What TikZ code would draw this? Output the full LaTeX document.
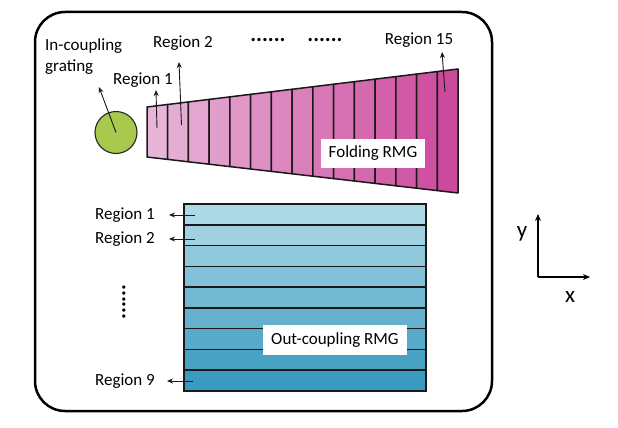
\documentclass[tikz,border=0pt]{standalone}
\usepackage{fontspec}
\setmainfont{Carlito}
\usetikzlibrary{arrows.meta,positioning,calc}

\definecolor{foldlight}{HTML}{E8B4D8}
\definecolor{folddark}{HTML}{CC4A9C}
\definecolor{outlight}{HTML}{ADD8E6}
\definecolor{outdark}{HTML}{3A9ABF}
\definecolor{gratinggreen}{HTML}{A8C94E}

\begin{document}
\begin{tikzpicture}[x=1pt, y=-1pt, >={Stealth[length=6pt,width=5pt]},
  lbl/.style={font=\fontsize{17}{21}\selectfont, inner sep=1pt},
  namebox/.style={lbl, fill=white, inner xsep=8pt, minimum height=29pt},
  dots/.style={font=\fontsize{22}{24}\selectfont\bfseries, inner sep=0pt},
  pointer/.style={->, line width=0.9pt, black!90}]
  \useasboundingbox (0,0) rectangle (618,428);

  % frame
  \draw[line width=2.5pt, rounded corners=30pt] (35,12) rectangle (492,411);

  % folding RMG, 15 regions
  \foreach \i in {0,...,14}{
    \pgfmathsetmacro{\xa}{147+\i*311/15}
    \pgfmathsetmacro{\xb}{147+(\i+1)*311/15}
    \pgfmathtruncatemacro{\p}{\i*100/14}
    \filldraw[fill=folddark!\p!foldlight, draw=black!90, line width=1.5pt, line join=round]
      (\xa,{107-38*(\xa-147)/311}) -- (\xb,{107-38*(\xb-147)/311})
      -- (\xb,{157+36*(\xb-147)/311}) -- (\xa,{157+36*(\xa-147)/311}) -- cycle;
  }
  \node[namebox] (foldname) at (373,153) {Folding RMG};

  % out-coupling RMG, 9 regions
  \foreach \j in {0,...,8}{
    \pgfmathsetmacro{\ya}{204+\j*187/9}
    \pgfmathsetmacro{\yb}{204+(\j+1)*187/9}
    \pgfmathtruncatemacro{\p}{\j*100/8}
    \filldraw[fill=outdark!\p!outlight, draw=black!90, line width=1.6pt]
      (184,\ya) rectangle (426,\yb);
  }
  \node[namebox, minimum height=30pt] (outname) at (335,340) {Out-coupling RMG};

  % in-coupling grating
  \node[circle, draw=black!85, line width=1.1pt, fill=gratinggreen,
    minimum size=42pt, inner sep=0pt] (grating) at (116,132.5) {};
  \node[lbl, anchor=west, align=left] (gratinglbl) at (44,57) {In-coupling\\grating};
  \coordinate (gratingtip) at (99,87);
  \draw[pointer] (grating.center) -- (gratingtip);

  % folding region labels
  \node[lbl] (freg1) at (143,80) {Region 1};
  \node[lbl] (freg2) at (183,43) {Region 2};
  \node[lbl] (freg15) at (419,40) {Region 15};
  \node[dots] (fdotsa) at (268,40) {......};
  \node[dots] (fdotsb) at (325,40) {......};
  \coordinate (f1in) at (157,128);  \coordinate (f1tip) at (156,90);
  \coordinate (f2in) at (181.5,125); \coordinate (f2tip) at (179,62);
  \coordinate (f15in) at (445,92);  \coordinate (f15tip) at (442,52);
  \draw[pointer] (f1in) -- (f1tip);
  \draw[pointer] (f2in) -- (f2tip);
  \draw[pointer] (f15in) -- (f15tip);

  % out-coupling region labels
  \node[lbl] (oreg1) at (125,215) {Region 1};
  \node[lbl] (oreg2) at (125,239) {Region 2};
  \node[lbl] (oreg9) at (125,381) {Region 9};
  \node[dots, rotate=90] (odots) at (124,302) {......};
  \coordinate (o1in) at (195,215); \coordinate (o1tip) at (169,215);
  \coordinate (o2in) at (195,239); \coordinate (o2tip) at (169,239);
  \coordinate (o9in) at (193,381); \coordinate (o9tip) at (167,381);
  \draw[pointer] (o1in) -- (o1tip);
  \draw[pointer] (o2in) -- (o2tip);
  \draw[pointer] (o9in) -- (o9tip);

  % axes
  \coordinate (orig) at (538,277);
  \coordinate (ytip) at (538,214);
  \coordinate (xtip) at (590,277);
  \draw[->, line width=1.8pt, >={Stealth[length=7pt,width=6pt]}] (orig) -- (ytip);
  \draw[->, line width=1.8pt, >={Stealth[length=7pt,width=6pt]}] (orig) -- (xtip);
  \node[font=\fontsize{23}{25}\selectfont, inner sep=0pt] (ylbl) at (522,234) {y};
  \node[font=\fontsize{23}{25}\selectfont, inner sep=0pt] (xlbl) at (570,297) {x};
\end{tikzpicture}
\end{document}
